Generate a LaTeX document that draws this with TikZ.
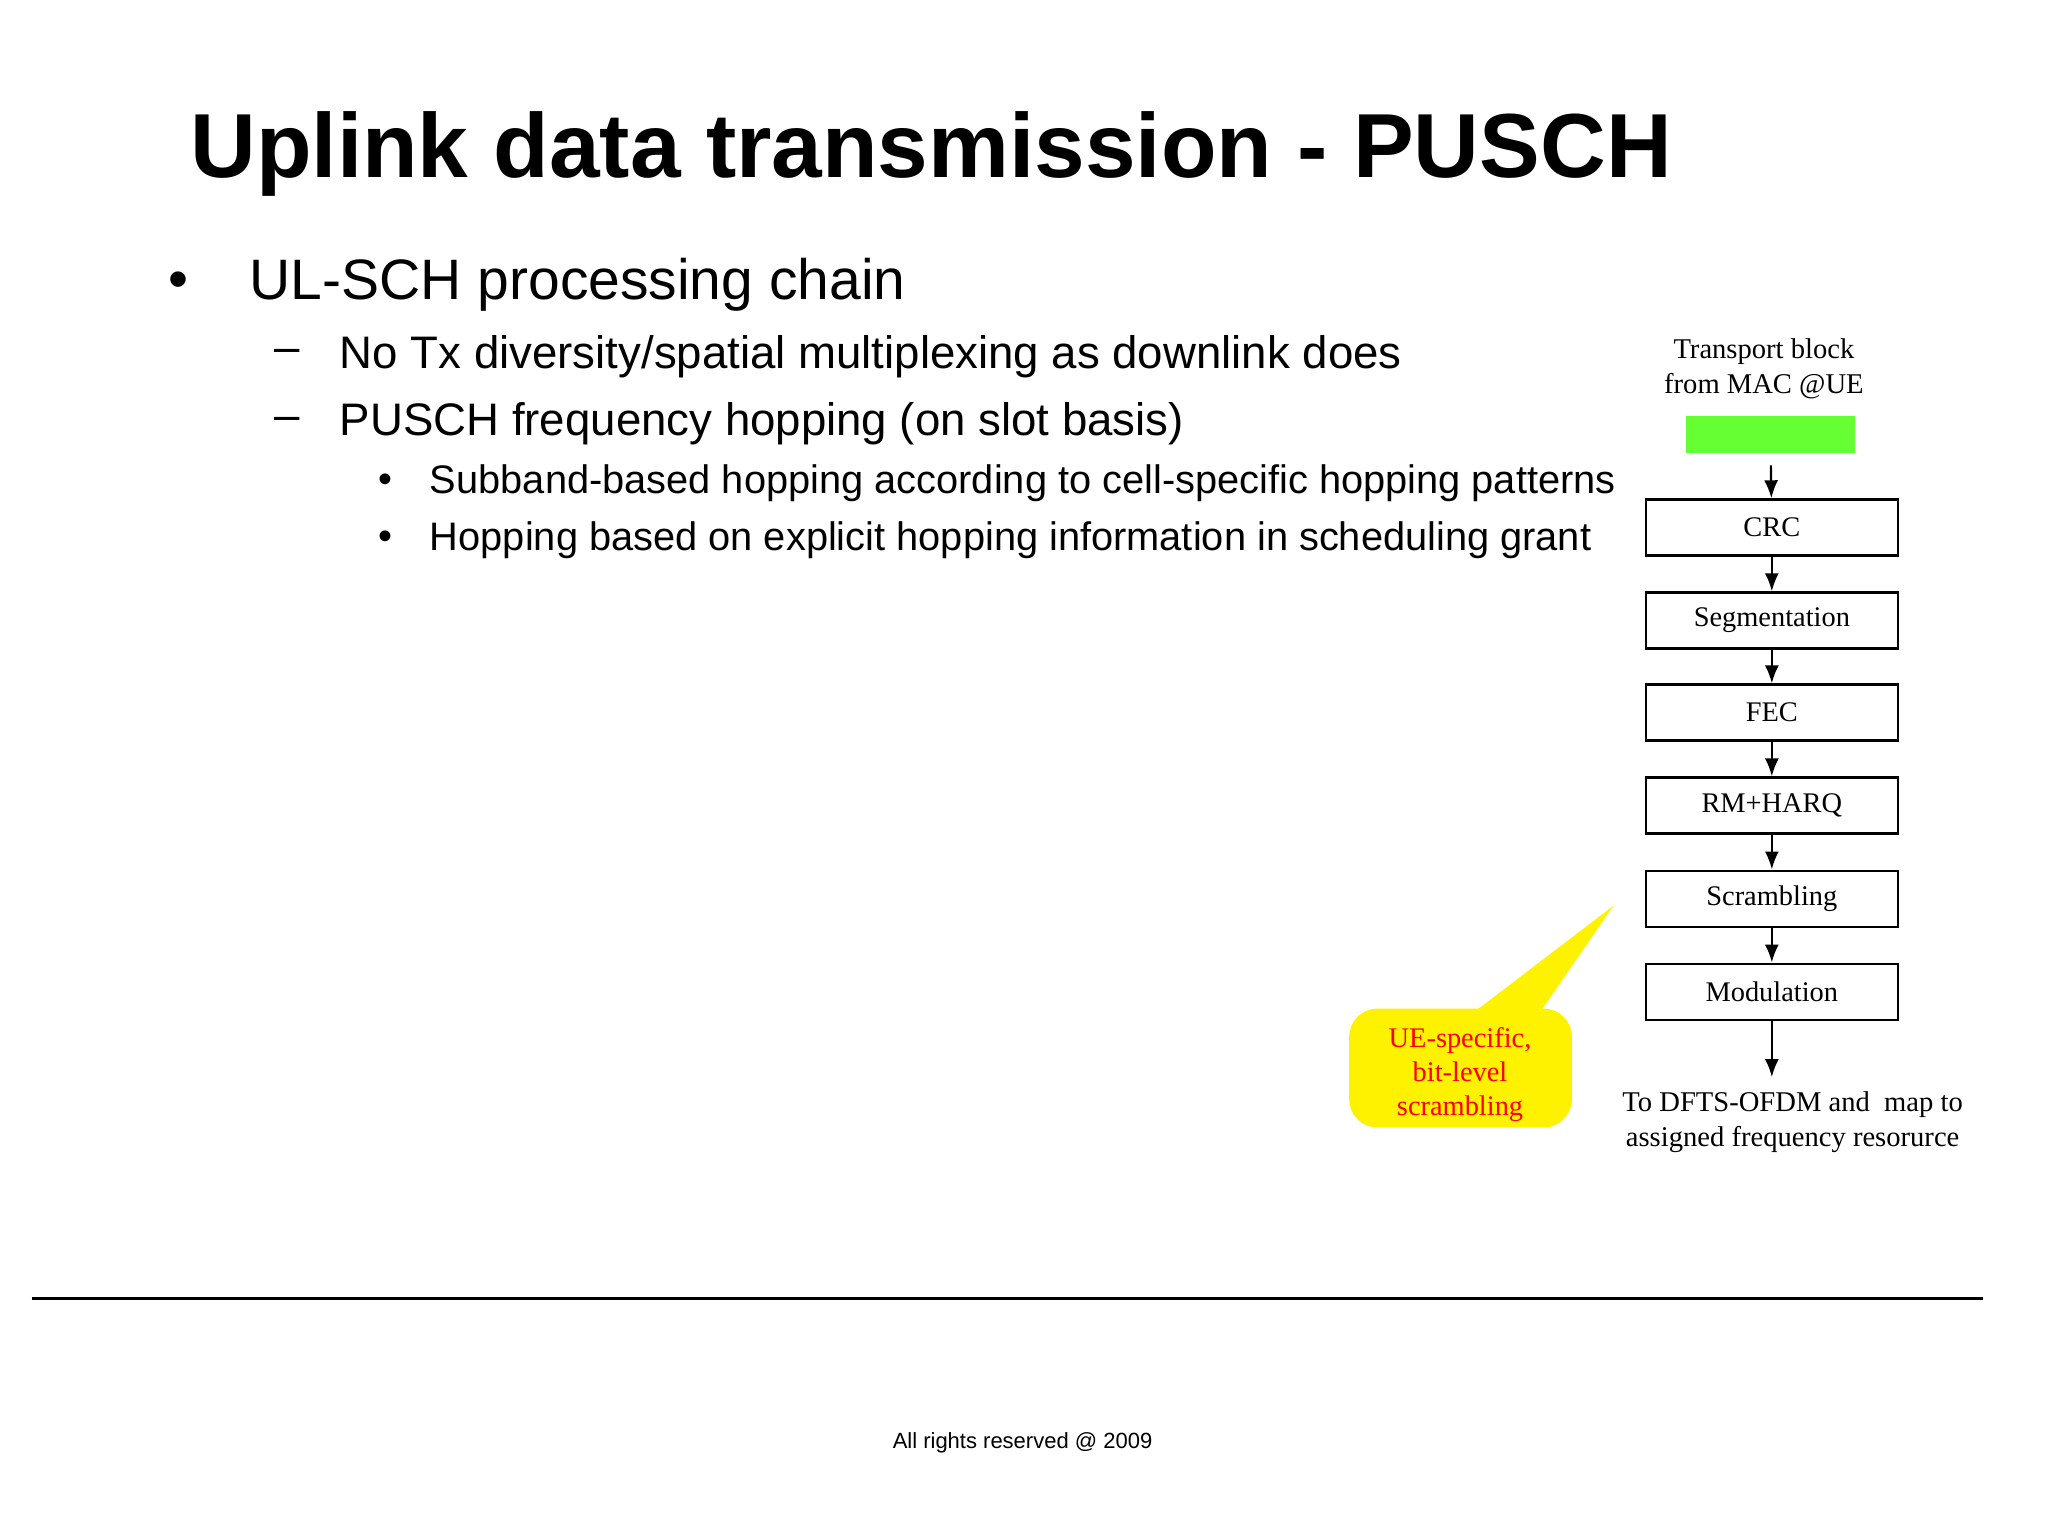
\documentclass[tikz,border=0pt]{standalone}
\usepackage{fontspec}
\setmainfont{Liberation Serif}
\newfontfamily\arial{Liberation Sans}
\usetikzlibrary{arrows.meta}
\begin{document}
\begin{tikzpicture}[x=0.495pt,y=-0.495pt,
  blk/.style={draw,line width=1.3pt,minimum width=126pt,minimum height=28pt,inner sep=0pt,font=\fontsize{14.2}{16}\selectfont},
  arr/.style={-{Latex[length=9pt,width=7pt]},line width=1.1pt},
  sans/.style={anchor=west,inner sep=0pt,font=\arial}]
\useasboundingbox (0,0) rectangle (2069,1553);
\node[font=\arial\bfseries\fontsize{45.5}{50}\selectfont,anchor=west,inner sep=0pt] (title) at (192,156) {Uplink data transmission - PUSCH};
\node[sans,font=\arial\fontsize{28.5}{32}\selectfont] (b1) at (170,288) {\textbullet};
\node[sans,font=\arial\fontsize{28.5}{32}\selectfont] (t1) at (252,288) {UL-SCH processing chain};
\node[sans,font=\arial\fontsize{22.8}{26}\selectfont] (d1) at (277,360) {\textendash};
\node[sans,font=\arial\fontsize{22.8}{26}\selectfont] (t2) at (343,360) {No Tx diversity/spatial multiplexing as downlink does};
\node[sans,font=\arial\fontsize{22.8}{26}\selectfont] (d2) at (277,428) {\textendash};
\node[sans,font=\arial\fontsize{22.8}{26}\selectfont] (t3) at (343,428) {PUSCH frequency hopping (on slot basis)};
\node[sans,font=\arial\fontsize{19.9}{22}\selectfont] (b2) at (382,488) {\textbullet};
\node[sans,font=\arial\fontsize{19.9}{22}\selectfont] (t4) at (434,488) {Subband-based hopping according to cell-specific hopping patterns};
\node[sans,font=\arial\fontsize{19.9}{22}\selectfont] (b3) at (382,546) {\textbullet};
\node[sans,font=\arial\fontsize{19.9}{22}\selectfont] (t5) at (434,546) {Hopping based on explicit hopping information in scheduling grant};
% chain
\node[font=\fontsize{14.3}{17.5}\selectfont,align=center] (tb) at (1782,373) {Transport block\\from MAC @UE};
\node[fill={rgb,255:red,102;green,255;blue,51},minimum width=84.5pt,minimum height=18.5pt,inner sep=0pt] (g) at (1789,439) {};
\node[blk] (crc) at (1790,533) {CRC};
\node[blk] (seg) at (1790,627) {Segmentation};
\node[blk] (fec) at (1790,720) {FEC};
\node[blk] (rm) at (1790,814) {RM+HARQ};
\node[blk] (scr) at (1790,908) {Scrambling};
\node[blk] (mod) at (1790,1002) {Modulation};
\node[font=\fontsize{14.3}{17.5}\selectfont,align=center] (out) at (1811,1134) {To DFTS-OFDM and\ \ map to\\assigned frequency resorurce};
\draw[arr] ([yshift=-6pt]g.south) -- (crc);
\draw[arr] (crc) -- (seg);
\draw[arr] (seg) -- (fec);
\draw[arr] (fec) -- (rm);
\draw[arr] (rm) -- (scr);
\draw[arr] (scr) -- (mod);
\draw[arr] (mod.south) -- ([yshift=-28pt]mod.south);
% callout
\coordinate (tip) at (1630,915);
\fill[yellow,rounded corners=14pt] (1363,1019) rectangle (1588,1139);
\fill[yellow] (1491,1021) -- (tip) -- (1557,1021) -- cycle;
\node[text=red,font=\fontsize{14.2}{17}\selectfont,align=center] (call) at (1475,1086) {UE-specific,\\bit-level\\scrambling};
% footer
\draw[line width=1.5pt] (32,1312) coordinate (l1) -- (2003,1312) coordinate (l2);
\node[font=\arial\fontsize{11}{13}\selectfont] (foot) at (1033,1458) {All rights reserved @ 2009};
\end{tikzpicture}
\end{document}
